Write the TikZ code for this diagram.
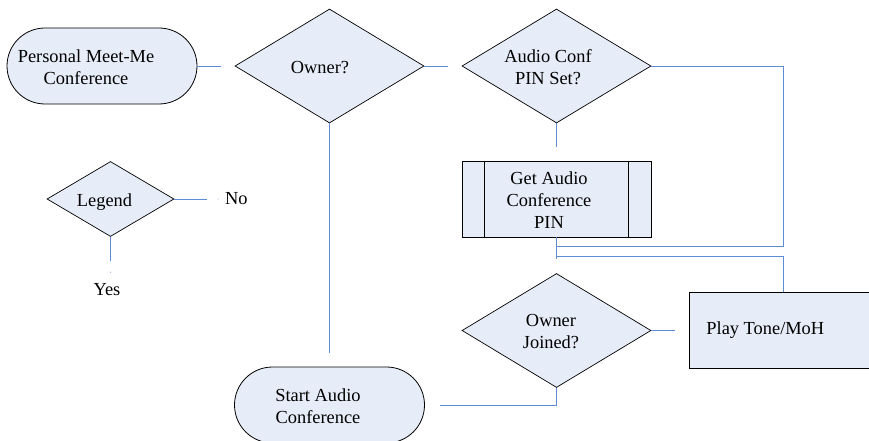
\documentclass[tikz,border=0pt]{standalone}
\usepackage{fontspec}
\setmainfont{Liberation Serif}
\usepackage{xcolor}
\usetikzlibrary{shapes.geometric,positioning}

\definecolor{flowfill}{RGB}{231,237,248}
\definecolor{flowline}{RGB}{96,140,214}

% text block pushed left (and a little down) inside its shape
\newcommand{\lefttext}[2]{\raisebox{-7pt}[0pt][0pt]{\begin{tabular}{@{}c@{}}#2\end{tabular}}\hspace*{#1}}

\begin{document}
\begin{tikzpicture}[
  x=1pt, y=-1pt,
  font=\fontsize{18.4}{22}\selectfont,
  term/.style={draw, line width=0.8pt, fill=flowfill,
               minimum width=190pt, minimum height=76pt, rounded corners=38pt,
               inner sep=0pt},
  decide/.style={draw, line width=0.7pt, fill=flowfill, diamond,
                 aspect=1.66, minimum width=189pt, minimum height=114pt,
                 inner sep=0pt},
  proc/.style={draw, line width=0.8pt, fill=flowfill, minimum width=189pt,
               minimum height=76pt, inner sep=0pt},
  link/.style={draw=flowline, line width=0.9pt},
  gap/.style={shorten >=14pt}
]
\useasboundingbox (0,0) rectangle (869,441);

% main flow
\node[term] (pmc) at (102,66) {\lefttext{32pt}{Personal Meet-Me\\Conference}};
\node[decide] (owner) at (329.5,66) {\lefttext{19pt}{Owner?}};
\node[decide] (pinset) at (556.5,66) {\lefttext{17pt}{Audio Conf\\PIN Set?}};
\node[proc] (getpin) at (556.5,199) {\lefttext{15pt}{Get Audio\\Conference\\PIN}};
\draw[line width=0.8pt] ([xshift=23pt]getpin.north west) -- ([xshift=23pt]getpin.south west);
\draw[line width=0.8pt] ([xshift=-23pt]getpin.north east) -- ([xshift=-23pt]getpin.south east);
\node[decide] (joined) at (556.5,330.5) {\lefttext{11pt}{Owner\\Joined?}};
\node[proc, anchor=west, inner xsep=17pt, text width=155pt, align=flush left]
  (tone) at (689,330.5) {Play Tone/MoH};
\node[term] (start) at (329.5,405) {\lefttext{23pt}{Start Audio\\Conference}};

\coordinate (merge) at (556.5,246);
\coordinate (rejoin) at (556.5,256);

\draw[link, gap] (pmc) -- (owner);
\draw[link, gap] (owner) -- (pinset);
\draw[link, gap] (owner) -- (start);
\draw[link, gap] (pinset) -- (getpin);
\draw[link] (pinset.east) -| (783,246) -- (merge);
\draw[link] (tone.north -| 783,0) |- (rejoin);
\draw[link, gap] (getpin) -- (joined);
\draw[link, gap] (joined) -- (tone.west);
\draw[link, shorten >=15pt] (joined.south) |- (start.east);

% legend
\node[decide, aspect=1.7, minimum width=127pt, minimum height=75pt] (legend) at (110.5,199) {\lefttext{12pt}{Legend}};
\node[anchor=west, inner sep=0pt] (no) at (225,199) {No};
\node[inner sep=0pt] (yes) at (107,290) {Yes};
\draw[link, shorten >=18pt] (legend.east) -- (no.west);
\draw[link, shorten >=23pt] (legend.south) -- (legend.south |- yes.north);
\fill[flowline] ([xshift=-7pt]no.west) circle (0.5pt);
\fill[flowline] (110.5,272) circle (0.5pt);
\end{tikzpicture}
\end{document}
